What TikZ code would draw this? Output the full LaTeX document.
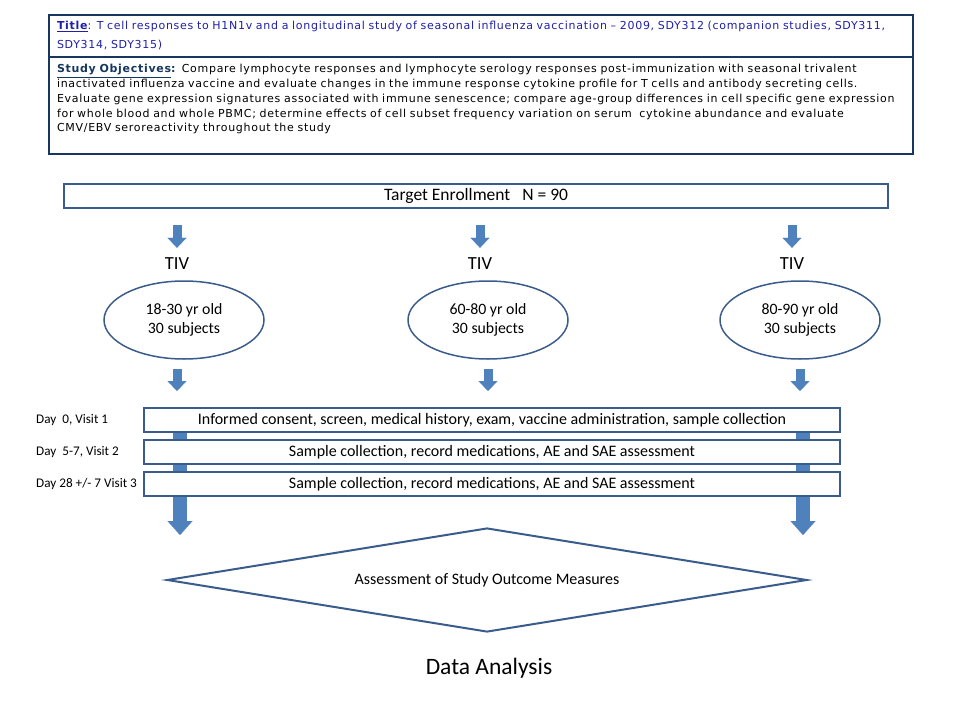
\documentclass[tikz,border=0pt]{standalone}
\usepackage{fontspec}
\setmainfont{Carlito}
\newfontfamily\verd[LetterSpace=6.5]{DejaVu Sans}
\usetikzlibrary{arrows.meta,shapes.geometric}
\definecolor{navy}{HTML}{17375E}
\definecolor{boxline}{HTML}{3A5C8C}
\definecolor{arrowfill}{HTML}{4F81BD}
\definecolor{titleblue}{HTML}{1F1FA8}

\begin{document}
\begin{tikzpicture}[x=1pt,y=-1pt,
	frame/.style={draw=navy,line width=2pt,anchor=north west,minimum width=864pt,
		inner xsep=8pt,inner ysep=0pt,text width=848pt,align=left},
	enrol/.style={draw=boxline,line width=1.5pt,minimum width=824pt,minimum height=24pt,
		inner sep=0pt,font=\fontsize{17.5}{20}\selectfont},
	tiv/.style={inner sep=0pt,minimum height=16pt,font=\fontsize{18.5}{20}\selectfont},
	group/.style={ellipse,draw=boxline,line width=1.5pt,minimum width=160pt,minimum height=78pt,
		inner sep=0pt,align=center,font=\fontsize{15.8}{19}\selectfont},
	visit/.style={draw=boxline,line width=2pt,fill=white,minimum width=696pt,minimum height=24pt,
		inner sep=0pt,font=\fontsize{16}{18}\selectfont},
	daylabel/.style={anchor=west,inner sep=0pt,font=\fontsize{13.2}{15}\selectfont},
	smallarr/.style={color=arrowfill,line width=9pt,-{Triangle[width=19pt,length=10pt,line width=0.1pt]}},
	bigarr/.style={color=arrowfill,line width=14pt,-{Triangle[width=25pt,length=14pt,line width=0.1pt]}}
]
	\useasboundingbox (0,0) rectangle (960,720);
	\node[frame,minimum height=42pt,text=titleblue,font=\verd\fontsize{11}{19}\selectfont] (T) at (48,14)
		{\mbox{\textbf{\underline{Title}}: T cell responses to H1N1v and a longitudinal study of seasonal influenza vaccination – 2009, SDY312 (companion studies, SDY311,}\\
		SDY314, SDY315)};
	\node[frame,minimum height=97pt,font=\verd\fontsize{11}{14.7}\selectfont] (O) at (48,56)
		{\mbox{{\color{navy}\textbf{\underline{Study Objectives}:}}\enspace Compare lymphocyte responses and lymphocyte serology responses post-immunization with seasonal trivalent}\\
		\mbox{inactivated influenza vaccine and evaluate changes in the immune response cytokine profile for T cells and antibody secreting cells.}\\
		\mbox{Evaluate gene expression signatures associated with immune senescence; compare age-group differences in cell specific gene expression}\\
		\mbox{for whole blood and whole PBMC; determine effects of cell subset frequency variation on serum\ \ cytokine abundance and evaluate}\\
		CMV/EBV seroreactivity throughout the study\\ \mbox{}};
	%
	\node[enrol] (N) at (476,196) {Target Enrollment\hspace{12pt}N = 90};
	\node[tiv] (I1) at (177,264) {TIV};
	\node[tiv] (I2) at (480,264) {TIV};
	\node[tiv] (I3) at (792,264) {TIV};
	\node[group] (G1) at (184,320) {18-30 yr old\\30 subjects};
	\node[group] (G2) at (488,320) {60-80 yr old\\30 subjects};
	\node[group] (G3) at (800,320) {80-90 yr old\\30 subjects};
	%
	\coordinate (P1) at (180,412);
	\coordinate (Q1) at (180,535);
	\coordinate (P3) at (803,412);
	\coordinate (Q3) at (803,535);
	\path[every edge/.append style={bigarr}]
		(P1) edge (Q1)
		(P3) edge (Q3);
	%
	\node[visit] (D1) at (492,420) {Informed consent, screen, medical history, exam, vaccine administration, sample collection};
	\node[visit] (D2) at (492,452) {Sample collection, record medications, AE and SAE assessment};
	\node[visit] (D3) at (492,484) {Sample collection, record medications, AE and SAE assessment};
	\node[daylabel] (L1) at (36,420) {Day\ \ 0, Visit\ 1};
	\node[daylabel] (L2) at (36,452) {Day\ \ 5-7, Visit\ 2};
	\node[daylabel] (L3) at (36,484) {Day 28 +/- 7 Visit 3};
	%
	\path[every edge/.append style={smallarr}]
		(N.south -| I1) edge[shorten <=16pt,shorten >=8pt] (I1)
		(N.south -| I2) edge[shorten <=16pt,shorten >=8pt] (I2)
		(N.south -| I3) edge[shorten <=16pt,shorten >=8pt] (I3)
		(G1.south -| I1) edge[shorten <=9pt,shorten >=16pt] (D1.north -| I1)
		(G2.south) edge[shorten <=9pt,shorten >=16pt] (D1.north -| G2)
		(G3.south) edge[shorten <=9pt,shorten >=16pt] (D1.north -| G3);
	%
	\node[diamond,aspect=6.15,draw=boxline,line width=2pt,minimum width=640pt,minimum height=104pt,
		inner sep=0pt,font=\fontsize{16}{18}\selectfont] (S) at (487,580) {Assessment of Study Outcome Measures};
	\node[font=\fontsize{23.5}{26}\selectfont] (Z) at (489,668) {Data Analysis};
\end{tikzpicture}
\end{document}
